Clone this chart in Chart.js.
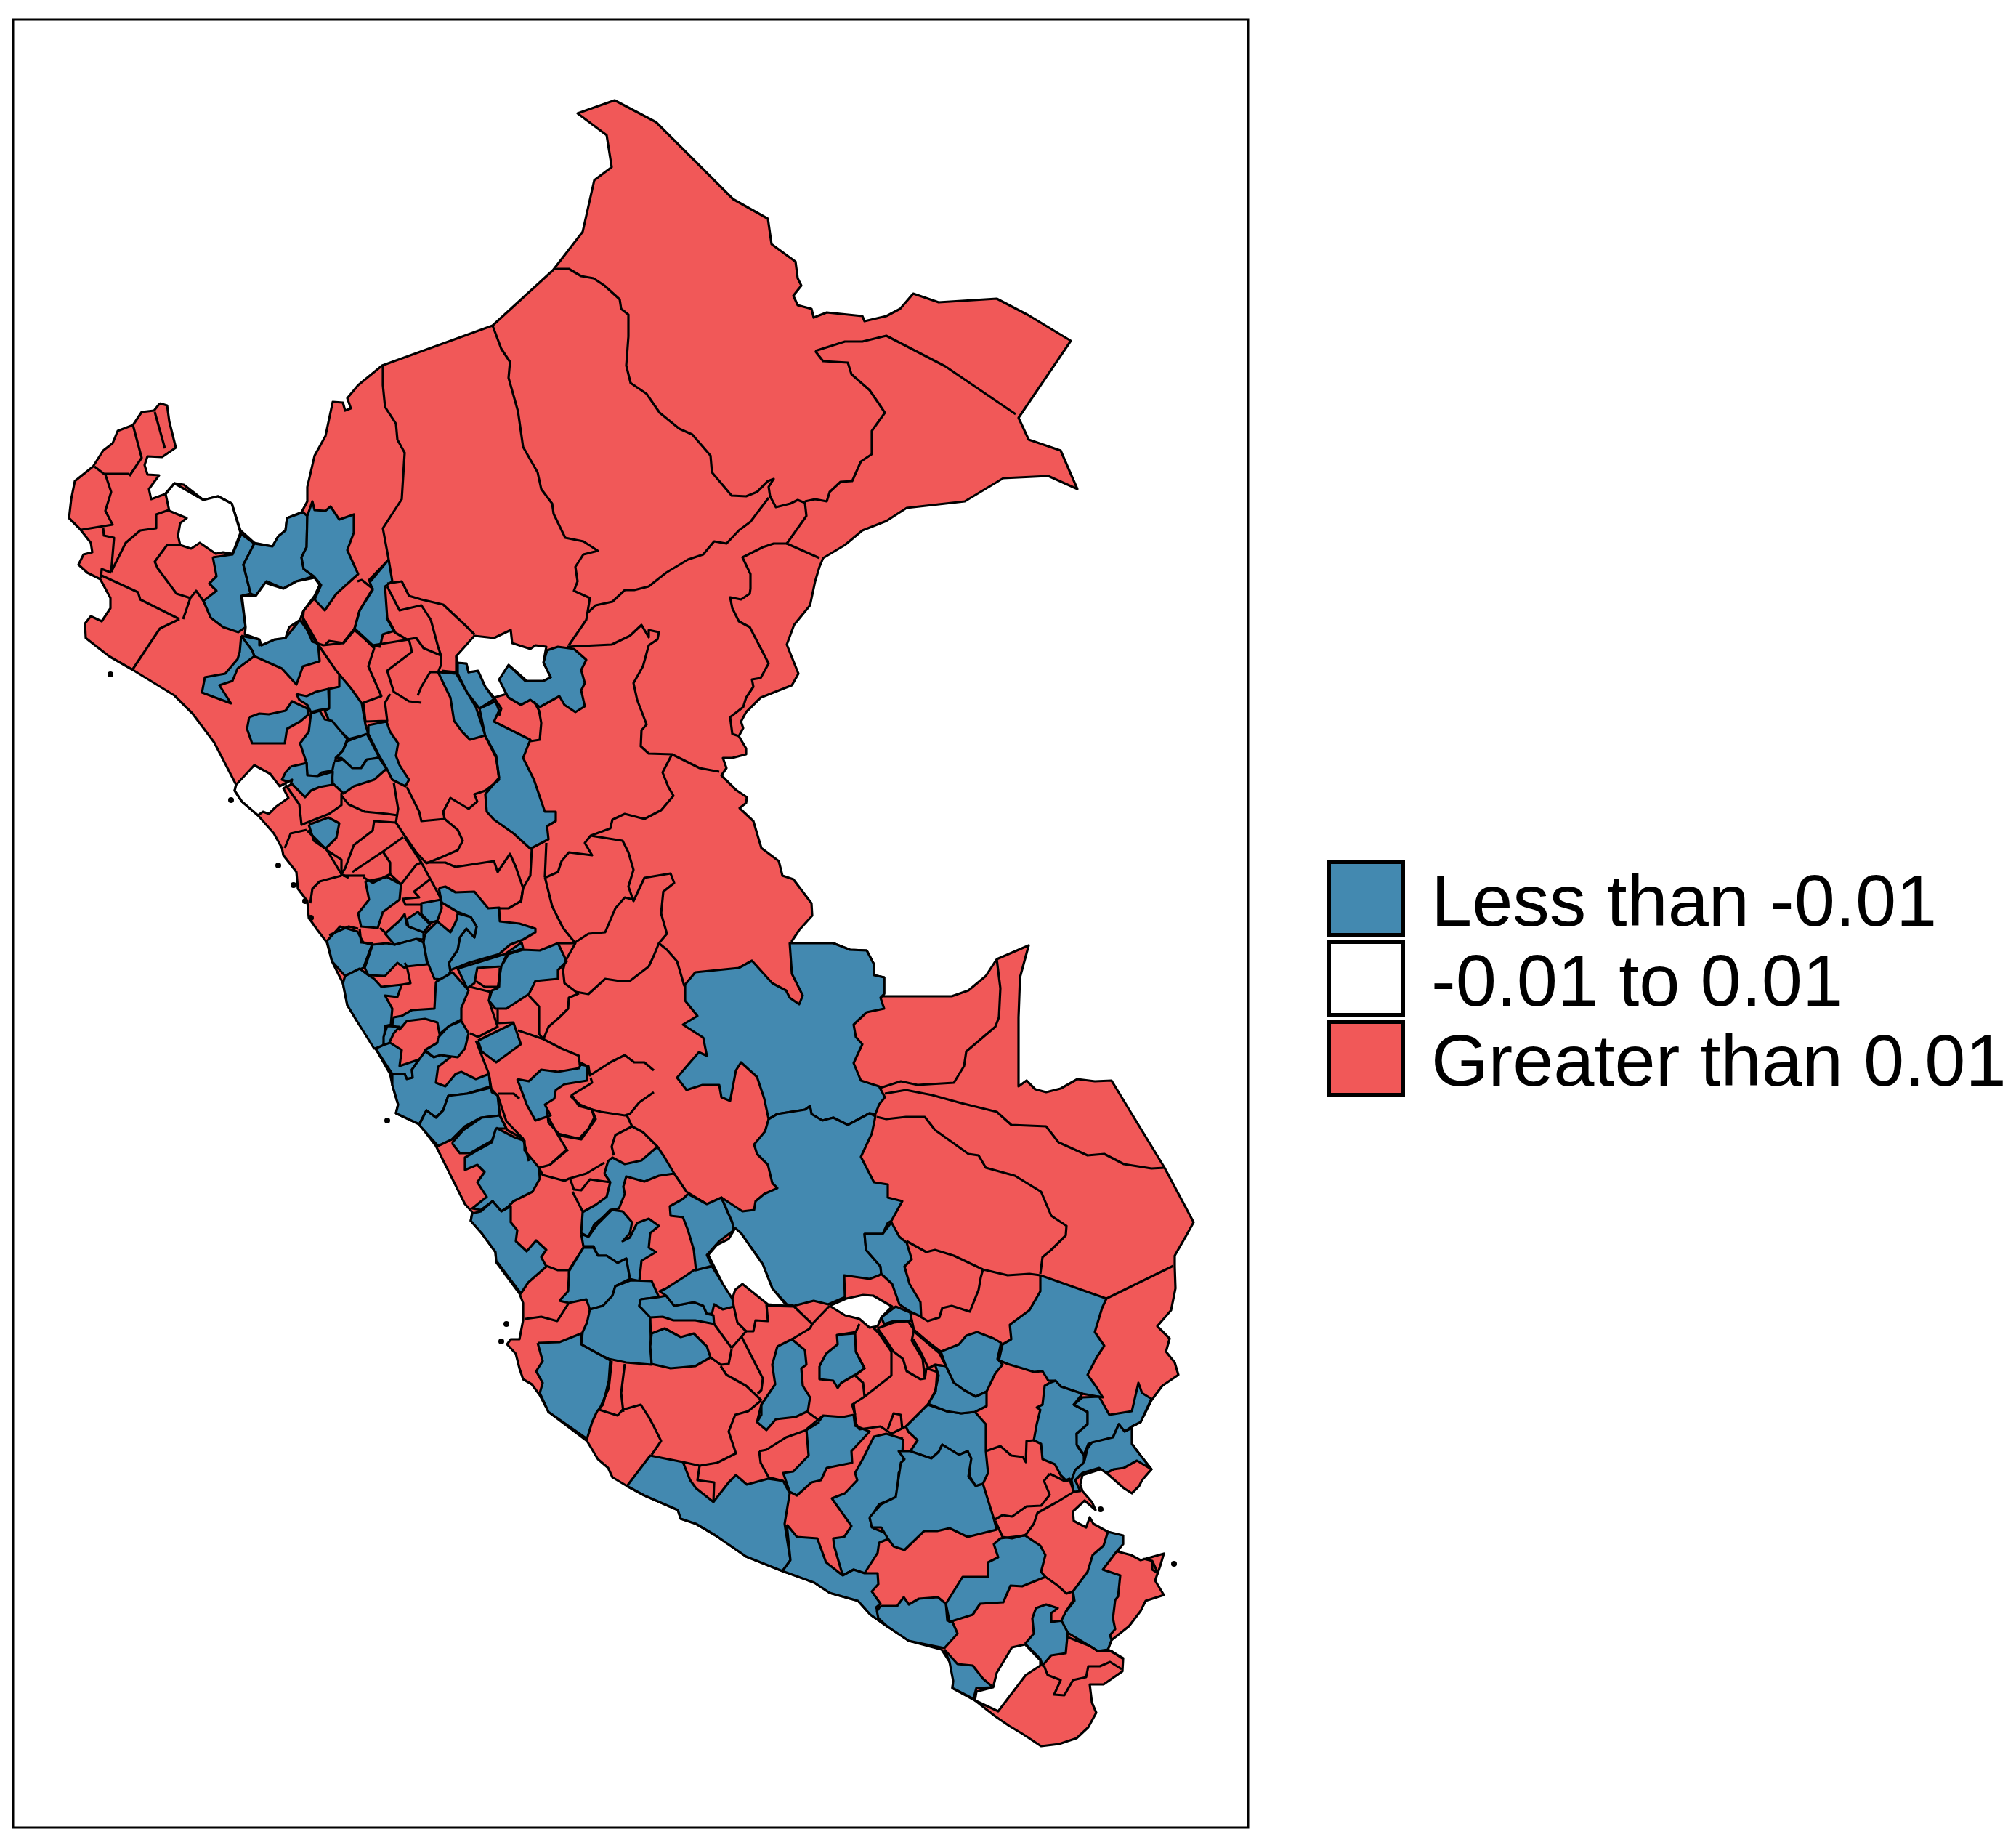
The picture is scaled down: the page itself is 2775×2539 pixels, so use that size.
<!DOCTYPE html>
<html>
<head>
<meta charset="utf-8">
<title>Peru provinces</title>
<script src="https://cdn.jsdelivr.net/npm/chart.js@4/dist/chart.umd.min.js"></script>
<style>
  html, body { margin: 0; background: #fff; }
  #wrap { position: relative; width: 2775px; height: 2539px; overflow: hidden; }
  .key { position: absolute; left: 1826px; width: 96px; height: 95px; border: 6px solid #000; }
  .lab { position: absolute; left: 1970px; font: 101px/107px "Liberation Sans", Arial, sans-serif; color: #000; white-space: nowrap; }
</style>
</head>
<body>
<div id="wrap">
  <canvas id="map" width="2775" height="2539"></canvas>
  <div id="legend"></div>
</div>
<script>
// ── Map data: flat x,y lists in map grid units ──
const legendLabels = ['Less than -0.01', '-0.01 to 0.01', 'Greater than 0.01'];
const blue = '#4389b0', red = '#f15858', white = '#ffffff';
const legendColors = [blue, white, red];

const nationalOutline = [220,555,230,558,233,580,242,616,223,629,203,628,199,640,203,653,219,654,205,673,208,687,227,680,240,665,253,667,280,688,300,683,319,693,331,730,350,747,375,752,383,738,393,730,395,713,415,705,423,690,423,670,433,627,448,600,458,553,472,554,475,565,483,562,478,548,493,530,526,503,678,448,761,372,802,319,818,248,842,230,835,186,795,156,846,138,903,168,956,221,1009,274,1057,301,1062,336,1095,360,1098,383,1103,393,1092,407,1098,420,1117,425,1120,437,1138,430,1187,435,1190,442,1220,435,1239,425,1257,404,1292,416,1372,411,1416,434,1474,469,1402,575,1416,605,1460,620,1483,673,1443,655,1381,658,1328,690,1248,699,1220,717,1187,730,1163,750,1133,768,1128,780,1122,800,1115,833,1093,860,1083,887,1099,927,1090,943,1047,960,1027,980,1020,993,1023,1002,1017,1013,1027,1030,1027,1038,1008,1043,995,1043,1000,1057,993,1067,1013,1087,1028,1097,1027,1105,1018,1112,1037,1130,1048,1167,1072,1185,1077,1205,1092,1210,1117,1243,1118,1260,1100,1280,1090,1295,1090,1298,1147,1298,1170,1307,1193,1308,1203,1327,1203,1342,1217,1345,1217,1367,1215,1371,1310,1371,1333,1363,1357,1343,1372,1320,1416,1301,1404,1345,1402,1400,1402,1495,1413,1487,1425,1499,1440,1503,1460,1498,1483,1485,1507,1488,1530,1487,1603,1607,1643,1682,1633,1700,1617,1728,1617,1743,1618,1773,1612,1803,1593,1825,1610,1842,1605,1860,1617,1875,1622,1892,1600,1907,1585,1927,1580,1937,1570,1957,1558,1963,1558,1987,1570,2003,1585,2022,1572,2037,1568,2045,1558,2055,1547,2048,1523,2027,1515,2022,1490,2030,1487,2043,1490,2052,1503,2067,1508,2078,1493,2065,1477,2080,1478,2093,1495,2102,1500,2088,1505,2097,1525,2108,1545,2115,1545,2125,1538,2135,1557,2140,1570,2147,1602,2138,1597,2155,1590,2175,1602,2195,1577,2203,1570,2217,1554,2238,1530,2257,1525,2270,1546,2282,1545,2300,1519,2318,1500,2318,1503,2343,1509,2357,1498,2377,1482,2392,1458,2400,1433,2403,1409,2387,1389,2375,1370,2362,1342,2340,1311,2323,1312,2315,1311,2293,1296,2270,1251,2258,1221,2238,1198,2222,1181,2203,1142,2192,1121,2178,1100,2170,1077,2162,1027,2142,985,2113,958,2097,937,2090,933,2078,887,2058,863,2045,843,2033,837,2020,823,2008,808,1983,800,1977,755,1943,743,1920,732,1905,720,1898,715,1883,710,1863,698,1850,703,1843,715,1843,720,1817,720,1793,715,1780,683,1737,682,1723,663,1697,648,1680,650,1668,640,1657,600,1577,577,1547,545,1532,548,1520,540,1493,537,1478,517,1443,490,1403,478,1383,472,1353,457,1323,450,1297,437,1280,425,1263,423,1240,410,1223,408,1200,390,1177,388,1167,377,1147,355,1122,333,1103,323,1088,325,1080,295,1022,265,982,240,957,183,922,150,903,118,878,117,858,125,848,140,855,152,837,152,823,138,797,120,788,108,777,115,763,127,760,125,747,110,728,95,713,98,687,103,662,128,642,142,620,155,610,162,593,183,585,195,567,212,565];

const blueRegions = [
  [293,767,320,763,332,735,350,748,335,777,345,817,332,820,338,863,328,870,307,863,290,850,280,827,298,813,288,803,298,793],
  [350,748,375,752,383,738,393,730,395,713,417,705,423,710,422,753,415,767,418,783,432,793,408,800,390,810,367,800,352,820,345,817,335,777],
  [423,710,430,690,433,702,448,703,455,697,467,715,487,708,487,733,478,757,493,790,463,817,447,840,433,825,442,805,432,793,418,783,415,767,422,753],
  [332,875,357,880,357,888,378,880,393,878,413,853,438,888,440,910,417,917,408,942,388,920,350,903,347,895],
  [332,875,347,895,350,903,327,920,320,937,302,943,318,968,278,953,282,932,310,927,327,907,330,897],
  [535,770,540,800,530,807,533,850,543,868,527,873,523,890,513,888,488,865,495,840,513,812,508,798],
  [408,955,422,958,435,952,452,948,453,975,440,977,428,980,423,970,412,963],
  [467,928,483,947,498,968,503,997,507,1010,480,1017,453,992,447,978,453,975,453,948,467,945],
  [343,987,357,982,370,983,393,978,402,965,423,975,425,983,413,993,395,1003,392,1023,373,1023,368,1023,347,1023,340,1003],
  [440,978,447,990,457,992,478,1017,472,1033,462,1045,460,1060,443,1063,437,1068,423,1067,422,1050,413,1023,425,1007,428,982],
  [478,1020,505,1010,522,1042,503,1047,497,1057,483,1057,470,1043,462,1043,472,1033],
  [460,1048,472,1045,485,1057,497,1057,505,1045,522,1043,532,1058,515,1073,487,1082,473,1092,458,1078,457,1063],
  [400,1055,422,1050,423,1067,437,1068,458,1062,457,1080,440,1083,428,1088,420,1097,400,1077,388,1073,393,1063],
  [507,998,532,993,537,1007,548,1023,545,1040,550,1053,563,1073,558,1082,540,1073,532,1057,522,1040,507,1010],
  [603,925,628,927,643,953,655,973,668,1012,647,1018,637,1008,625,992,620,960,615,950],
  [630,912,642,913,645,925,658,923,668,945,680,962,660,975,643,953,630,927],
  [687,935,700,915,723,937,747,937,758,932,748,912,753,895,768,890,790,893,807,908,800,922,805,940,800,950,805,972,792,980,777,970,770,958,743,973,730,963,717,970,700,960,690,943],
  [660,975,682,965,687,978,680,993,730,1018,720,1043,735,1073,750,1117,765,1117,765,1130,753,1137,755,1155,730,1168,707,1147,680,1128,670,1117,668,1093,687,1070,683,1043,668,1013],
  [425,1135,452,1125,467,1133,463,1153,448,1168,432,1157],
  [503,1213,533,1207,552,1217,550,1238,527,1255,520,1277,497,1275,493,1257,508,1238],
  [450,1295,468,1275,492,1282,500,1297,512,1300,502,1327,500,1332,475,1343,457,1323],
  [513,1300,532,1298,543,1300,573,1292,583,1297,588,1327,560,1330,557,1332,547,1325,530,1343,507,1342,502,1332],
  [530,1285,550,1267,557,1258,560,1273,583,1283,583,1293,573,1292,543,1300],
  [560,1265,575,1255,592,1272,583,1283,562,1275],
  [580,1243,607,1238,608,1250,602,1267,592,1270,580,1258],
  [604,1222,613,1220,627,1228,653,1227,672,1250,687,1249,688,1268,715,1271,737,1278,737,1283,720,1293,702,1300,687,1313,645,1325,620,1335,618,1325,630,1307,633,1290,642,1278,653,1290,656,1275,648,1262,630,1255,608,1242],
  [585,1285,602,1268,620,1283,628,1267,630,1257,648,1262,656,1275,653,1290,642,1278,633,1290,630,1307,618,1325,620,1338,610,1348,598,1347,588,1323,583,1297],
  [630,1333,695,1313,718,1297,720,1305,698,1313,690,1330,657,1332,653,1353,643,1360],
  [690,1330,700,1313,720,1307,743,1308,768,1298,780,1323,768,1335,768,1347,737,1350,728,1368,697,1388,682,1388,673,1377,677,1363,685,1360],
  [475,1343,495,1333,507,1342,515,1347,525,1358,553,1355,547,1372,530,1370,540,1388,538,1410,530,1412,528,1440,515,1443,490,1403,478,1383,472,1353],
  [602,1350,623,1338,645,1363,635,1387,635,1403,618,1412,605,1423,602,1407,585,1402,560,1405,550,1417,540,1410,542,1400,553,1398,567,1390,598,1388,600,1352],
  [533,1412,550,1413,542,1422,535,1437,528,1440,528,1427],
  [517,1443,528,1438,537,1435,545,1440,553,1445,550,1467,577,1458,567,1472,568,1483,560,1485,557,1478,540,1478],
  [603,1428,618,1412,635,1405,645,1422,640,1443,630,1455,607,1452,597,1455,585,1445,602,1435],
  [658,1432,707,1408,717,1437,683,1462,663,1447],
  [540,1478,557,1478,560,1485,568,1483,567,1472,577,1458,585,1447,597,1455,607,1452,620,1455,603,1468,600,1490,613,1495,627,1478,635,1475,655,1485,673,1478,675,1495,643,1505,617,1508,610,1528,600,1538,587,1528,577,1547,545,1532,548,1520,540,1493],
  [577,1548,587,1528,600,1538,610,1528,617,1508,643,1505,675,1497,685,1508,688,1535,662,1538,640,1550,622,1568,603,1577],
  [622,1573,638,1555,663,1538,688,1535,697,1553,683,1553,677,1570,647,1587,633,1587],
  [683,1552,708,1565,722,1570,722,1583,742,1607,743,1622,733,1640,707,1653,700,1660,690,1667,678,1653,662,1665,650,1663,670,1647,657,1627,667,1613,657,1603,640,1610,640,1593,657,1583,677,1572],
  [650,1670,662,1667,678,1653,690,1667,703,1660,703,1682,712,1693,710,1708,725,1722,738,1707,752,1720,745,1730,752,1743,727,1765,717,1780,683,1735,682,1723,663,1697,648,1680],
  [712,1485,728,1488,745,1472,768,1475,797,1470,800,1463,808,1467,808,1487,777,1492,765,1500,763,1512,750,1520,758,1535,737,1542,725,1520],
  [832,1615,837,1598,843,1593,860,1602,883,1597,905,1578,915,1593,928,1615,907,1618,887,1626,862,1619,858,1633,860,1643,852,1663,840,1665,830,1675,818,1685,810,1702,800,1697,802,1668,820,1658,835,1647,840,1627],
  [800,1698,810,1702,822,1685,842,1665,857,1667,870,1682,867,1697,857,1708,867,1703,877,1683,893,1677,907,1687,895,1697,893,1717,903,1723,883,1735,880,1763,867,1760,862,1732,850,1738,835,1728,823,1728,817,1715,803,1715],
  [770,1790,782,1777,783,1757,783,1750,803,1717,817,1717,823,1728,835,1728,850,1738,862,1732,867,1760,847,1770,843,1783,830,1797,812,1802,807,1788,783,1793],
  [812,1802,830,1797,843,1783,847,1770,868,1762,897,1763,907,1785,882,1788,880,1797,895,1812,897,1878,862,1875,838,1870,820,1862,800,1850,802,1833,808,1820],
  [882,1788,907,1785,917,1783,928,1797,955,1792,968,1797,973,1808,982,1810,983,1822,957,1817,927,1817,912,1812,895,1813,880,1797],
  [897,1835,915,1828,937,1840,955,1835,973,1853,978,1868,957,1880,923,1883,897,1877,895,1853],
  [917,1773,942,1757,955,1748,980,1743,1008,1787,1010,1798,995,1802,983,1795,980,1808,973,1808,968,1797,955,1792,928,1797,917,1783,908,1777],
  [947,1643,973,1657,993,1648,1008,1682,1010,1693,990,1708,973,1727,980,1742,958,1748,955,1720,947,1693,940,1675,923,1673,922,1660,940,1650],
  [943,1355,957,1338,987,1335,1017,1332,1035,1322,1063,1353,1082,1363,1087,1373,1100,1382,1105,1370,1090,1340,1087,1298,1147,1298,1170,1307,1193,1308,1203,1327,1203,1342,1217,1345,1217,1368,1212,1373,1217,1388,1193,1393,1175,1410,1178,1427,1187,1437,1175,1463,1185,1487,1210,1495,1218,1510,1210,1520,1205,1533,1197,1532,1167,1548,1147,1538,1132,1542,1117,1533,1115,1522,1108,1527,1070,1533,1058,1540,1052,1512,1042,1482,1020,1462,1013,1473,1005,1515,993,1510,990,1493,967,1493,945,1500,932,1483,943,1470,962,1448,973,1453,968,1428,940,1410,960,1398,943,1377],
  [1058,1540,1070,1533,1108,1527,1115,1522,1117,1533,1132,1542,1147,1538,1167,1548,1197,1532,1205,1536,1200,1560,1185,1592,1203,1627,1222,1630,1222,1648,1242,1653,1227,1680,1222,1683,1215,1698,1190,1698,1192,1720,1212,1743,1213,1753,1210,1755,1197,1760,1162,1755,1163,1785,1140,1795,1120,1790,1093,1797,1083,1795,1063,1773,1050,1740,1020,1697,1010,1693,1008,1682,993,1648,1022,1667,1038,1665,1040,1653,1052,1643,1070,1635,1063,1628,1057,1603,1042,1588,1038,1575,1053,1557],
  [1213,1813,1233,1798,1255,1807,1253,1818,1230,1818,1217,1822],
  [1227,1682,1238,1702,1248,1710,1255,1733,1245,1743,1252,1767,1267,1792,1268,1812,1253,1805,1238,1795,1228,1767,1213,1753,1212,1743,1192,1720,1190,1698,1215,1698],
  [1070,1853,1090,1843,1108,1858,1110,1878,1103,1883,1105,1907,1115,1923,1112,1942,1095,1950,1068,1953,1055,1968,1042,1957,1048,1933,1067,1905,1063,1878],
  [1128,1880,1137,1863,1153,1850,1152,1837,1177,1835,1178,1860,1190,1883,1177,1892,1158,1903,1153,1910,1147,1900,1128,1898],
  [1110,1967,1133,1948,1160,1950,1175,1947,1177,1962,1197,1970,1172,1997,1173,2013,1138,2020,1130,2037,1117,2040,1097,2058,1087,2053,1078,2027,1092,2025,1113,2003],
  [1243,1980,1242,2003,1245,2012,1237,2027,1235,2060,1210,2070,1197,2090,1202,2103,1220,2110,1222,2118,1210,2123,1208,2137,1190,2165,1175,2160,1160,2168,1148,2127,1147,2117,1162,2115,1172,2100,1145,2062,1163,2055,1180,2037,1177,2027,1188,2007,1203,1977,1220,1973],
  [863,2045,895,2003,940,2012,950,2037,958,2048,982,2067,1003,2040,1013,2030,1028,2043,1057,2035,1078,2038,1087,2055,1080,2097,1088,2147,1077,2162,1027,2142,985,2113,958,2097,937,2090,933,2078,887,2058],
  [1083,2098,1097,2115,1125,2117,1137,2150,1160,2168,1175,2160,1190,2165,1208,2165,1209,2180,1200,2190,1212,2207,1206,2212,1212,2227,1221,2238,1198,2222,1181,2203,1142,2192,1121,2178,1077,2162,1088,2147],
  [1212,2210,1235,2210,1244,2198,1251,2208,1265,2200,1291,2198,1302,2207,1304,2230,1311,2232,1318,2248,1300,2268,1275,2263,1251,2258,1221,2238,1209,2227,1207,2217],
  [1300,2270,1318,2290,1339,2292,1353,2310,1367,2322,1344,2323,1340,2338,1311,2323,1312,2313,1307,2287],
  [1411,2262,1423,2248,1421,2227,1426,2213,1440,2208,1456,2213,1447,2220,1447,2232,1465,2230,1470,2243,1467,2275,1447,2278,1435,2292,1432,2283],
  [1477,2190,1497,2163,1504,2140,1519,2127,1525,2108,1546,2113,1546,2125,1537,2135,1518,2160,1542,2168,1539,2197,1535,2202,1532,2227,1535,2242,1528,2250,1530,2257,1525,2270,1511,2272,1500,2265,1470,2247,1461,2230,1467,2218,1477,2203],
  [1247,1963,1277,1933,1303,1942,1323,1945,1342,1943,1357,1960,1357,1997,1360,2027,1353,2042,1343,2045,1335,2032,1332,2007,1332,1997,1320,2002,1297,1988,1292,1998,1282,2007,1253,1997,1263,1982,1250,1970],
  [1197,2088,1213,2070,1233,2060,1240,2013,1245,2008,1237,1997,1253,1997,1282,2007,1292,1998,1297,1988,1320,2002,1332,1997,1337,2007,1333,2032,1343,2045,1353,2042,1368,2090,1372,2105,1332,2115,1307,2103,1290,2107,1272,2107,1245,2133,1230,2128,1222,2117,1213,2102,1200,2102],
  [1295,1860,1320,1850,1330,1838,1345,1833,1368,1842,1378,1848,1373,1870,1380,1878,1370,1890,1358,1915,1343,1922,1327,1913,1313,1903,1302,1880],
  [1287,1878,1302,1880,1313,1903,1327,1913,1343,1922,1358,1915,1358,1935,1342,1943,1323,1945,1303,1942,1278,1932,1287,1915,1292,1893],
  [1432,1755,1523,1787,1517,1800,1507,1833,1520,1852,1510,1867,1497,1892,1508,1907,1518,1923,1490,1918,1460,1908,1452,1900,1443,1900,1435,1887,1423,1888,1407,1883,1387,1877,1375,1872,1380,1850,1392,1843,1390,1823,1417,1803,1432,1777],
  [1445,1903,1453,1900,1460,1908,1490,1918,1478,1933,1497,1943,1497,1960,1482,1973,1483,1990,1492,2003,1492,2013,1480,2023,1477,2035,1468,2038,1460,2030,1452,2015,1435,2008,1433,1987,1423,1982,1427,1960,1432,1940,1427,1937,1435,1933,1438,1907],
  [1490,1923,1513,1922,1527,1947,1558,1942,1567,1903,1572,1917,1585,1925,1578,1940,1570,1957,1558,1963,1548,1970,1540,1960,1532,1978,1498,1987,1492,2002,1482,1988,1482,1973,1497,1960,1497,1943,1478,1933],
  [1492,2013,1497,1993,1503,1985,1532,1978,1540,1960,1548,1970,1558,1965,1558,1987,1570,2003,1585,2022,1565,2010,1547,2020,1533,2022,1523,2027,1513,2020,1490,2027,1480,2037,1487,2052,1478,2053,1475,2037,1480,2023],
  [740,1848,770,1847,800,1835,800,1850,840,1872,838,1900,830,1933,822,1942,815,1957,808,1980,755,1943,743,1917,747,1903,738,1887,747,1873],
  [1377,2117,1411,2113,1432,2127,1439,2140,1433,2163,1439,2170,1407,2183,1391,2182,1381,2205,1349,2207,1339,2222,1307,2232,1302,2207,1325,2170,1360,2170,1360,2150,1374,2143,1368,2125]
];

const whiteRegions = [
  [228,680,240,665,280,688,300,683,319,693,331,733,320,762,307,760,297,762,275,747,263,755,248,750,245,737,248,720,257,713,233,703],
  [333,820,352,820,365,802,390,810,408,800,433,795,440,805,433,820,417,842,413,853,398,863,393,878,378,880,360,888,357,880,337,873,338,863],
  [628,903,653,875,680,878,703,867,705,885,730,893,737,888,752,890,748,912,758,932,748,937,725,937,700,915,687,935,697,955,680,960,668,945,658,923,645,925,642,913,630,912],
  [325,1080,350,1053,372,1065,385,1082,402,1073,400,1080,390,1085,397,1098,380,1110,370,1120,362,1117,355,1122,333,1103,323,1088],
  [975,1727,987,1713,1003,1705,1012,1690,1020,1697,1050,1740,1063,1773,1083,1797,1057,1795,1022,1767,1012,1775,1008,1787,995,1767],
  [1142,1797,1165,1787,1188,1782,1202,1783,1228,1798,1213,1813,1208,1825,1197,1827,1183,1815,1163,1810],
  [1344,2328,1367,2322,1372,2302,1393,2267,1411,2263,1432,2285,1432,2292,1412,2305,1374,2355,1342,2340]
];

// province borders between neighbouring red provinces
const boundaryLines = [
  [678,448,690,480,702,498,700,520,713,566,720,615,740,650,745,673,760,693,762,707,778,740,803,745,823,758,803,763,792,780,795,800,790,813,812,823,807,853,783,888],
  [807,845,820,833,843,828,860,812,873,812,893,807,917,788,947,770,968,763,983,745,1000,748,1017,730,1033,718,1058,685],
  [762,370,783,370,800,380,817,383,832,393,853,412,855,425,865,433,865,463,862,503,868,527,890,542,908,568,935,590,953,598,978,627,980,650,1007,682,1027,683,1042,677,1057,662,1065,659,1058,670,1060,683,1068,698,1088,693,1098,688,1108,692,1110,710,1083,748,1128,768],
  [1122,483,1163,470,1187,470,1220,462,1301,504,1398,570],
  [1122,483,1133,497,1167,499,1172,515,1197,537,1208,553,1218,568,1200,593,1200,625,1185,635,1173,662,1157,663,1142,677,1138,690,1122,687,1108,690],
  [1083,748,1065,748,1050,753,1022,767,1033,790,1033,810,1032,817,1020,825,1005,822,1008,837,1017,855,1032,863,1058,913,1047,933,1035,935,1037,945,1027,960,1023,973,1005,987,1008,1010,1017,1013],
  [780,890,842,887,867,875,883,860,893,877,893,867,907,870,905,880,893,888,885,917,872,940,877,963,890,997,883,1005,882,1027,893,1037,925,1038,963,1057,990,1062],
  [925,1038,912,1063,920,1083,927,1095,910,1115,887,1127,860,1120,843,1128,840,1140,813,1150,805,1160,815,1177,783,1173,773,1185,768,1200,750,1208],
  [813,1150,857,1157,865,1173,872,1197,865,1220,872,1240,887,1208,923,1202,928,1215,913,1227,910,1257,918,1285,907,1298,918,1307,932,1323,942,1357],
  [907,1298,900,1315,893,1330,867,1350,853,1350,833,1347,810,1368,793,1365,777,1353,775,1335,778,1323],
  [790,1298,810,1285,833,1283,847,1250,860,1235,872,1238],
  [750,1207,760,1247,775,1277,792,1298,778,1323],
  [752,1160,750,1207],
  [732,1168,730,1205,720,1222,717,1243],
  [587,1187,613,1187,627,1193,680,1185,685,1200,702,1175,710,1193,720,1222,717,1240,700,1250,688,1250],
  [728,1370,742,1385,742,1423,748,1430],
  [748,1430,755,1413,770,1400,782,1388,783,1373,797,1367],
  [713,1418,748,1430,773,1443,797,1453,798,1465,810,1467,812,1480,840,1462,860,1452,873,1462,887,1462,900,1473],
  [813,1483,815,1490,787,1507,797,1522,827,1530,860,1535,867,1533,880,1517,900,1503],
  [862,1533,870,1550,847,1562,842,1578,845,1590],
  [870,1550,885,1558,905,1578],
  [928,1615,945,1640,973,1657],
  [755,1538,768,1562,780,1582,757,1603,742,1607],
  [768,1560,797,1567,810,1553,818,1538,815,1528],
  [685,1507,697,1543,720,1567],
  [742,1607,747,1617,777,1625,783,1622,807,1615,832,1600],
  [785,1623,790,1637,800,1638,812,1623,840,1627],
  [788,1640,802,1667],
  [752,1742,768,1748,783,1748,803,1717],
  [723,1815,745,1812,767,1818,783,1793],
  [860,1877,855,1917,858,1943],
  [842,1873,838,1910,825,1940,850,1948,857,1940,882,1933,893,1950,900,1963,910,1983,897,2002],
  [963,2017,960,2037,983,2040,982,2067],
  [940,2012,963,2017,987,2013,1013,2000,1003,1970,1012,1947,1030,1942,1048,1927],
  [983,1822,1007,1855],
  [1010,1798,1015,1820,1027,1832,1007,1855],
  [1027,1832,1037,1832,1040,1817,1057,1818,1055,1795],
  [1007,1857,1003,1877,992,1878,978,1868],
  [1020,1838,1050,1897,1048,1913,1043,1918],
  [992,1880,1000,1892,1027,1907,1048,1927],
  [1055,1797,1093,1798,1118,1822,1115,1828,1090,1843],
  [1153,1837,1178,1833,1183,1822],
  [1118,1822,1142,1797],
  [1178,1860,1190,1883,1177,1893,1188,1903,1190,1922,1173,1933,1177,1947],
  [1110,1942,1128,1955,1133,1948],
  [1045,1997,1055,1995,1082,1978,1110,1968,1128,1957],
  [1045,1997,1047,2013,1058,2033,1078,2038],
  [1048,1933,1048,1947,1042,1957],
  [1190,1922,1227,1893,1227,1860,1210,1835,1202,1827],
  [1208,1828,1230,1820,1250,1818,1258,1830,1255,1845,1270,1870,1273,1897,1267,1898,1248,1887,1243,1870,1230,1860,1218,1842,1208,1828],
  [1258,1832,1273,1845,1293,1862,1302,1880,1287,1878,1278,1883,1267,1860,1257,1843],
  [1273,1898,1275,1883,1290,1888,1288,1915,1277,1933],
  [1222,1967,1230,1945,1240,1947,1242,1967],
  [1177,1957,1183,1967,1212,1963,1227,1973,1247,1963],
  [1175,1932,1178,1957],
  [1357,1997,1377,1990,1392,2003,1408,2005,1412,2012,1413,1983,1423,1982],
  [1445,2028,1437,2038,1445,2057,1433,2072,1413,2073,1393,2087,1380,2085,1368,2092],
  [1445,2028,1465,2038,1472,2035,1478,2053,1455,2067,1428,2082,1423,2097,1412,2112,1393,2117,1380,2115,1370,2093],
  [1439,2170,1456,2182,1468,2193,1477,2190,1479,2203,1467,2218],
  [1470,2253,1500,2265,1511,2272,1530,2272,1546,2283],
  [1437,2292,1442,2305,1460,2312,1451,2332,1465,2333,1477,2312,1495,2308,1498,2293,1514,2293,1528,2287,1544,2297],
  [1574,2145,1586,2148,1594,2165,1586,2160,1586,2148],
  [1212,1497,1240,1488,1263,1493,1313,1490,1327,1467,1330,1447,1370,1413,1375,1400,1377,1360,1372,1320],
  [1218,1505,1247,1500,1283,1507,1323,1518,1372,1530,1392,1548,1440,1550,1457,1572,1497,1590,1520,1588,1547,1602,1585,1608,1603,1607],
  [1207,1537,1220,1540,1247,1537,1273,1537,1287,1555,1333,1588,1347,1590,1357,1607,1397,1618,1433,1640,1447,1673,1468,1687,1467,1700,1447,1720,1435,1730,1432,1753],
  [1432,1755,1417,1753,1387,1755,1353,1747,1313,1728,1287,1720,1275,1723,1248,1708],
  [1353,1747,1350,1758,1347,1775,1335,1805,1310,1797,1297,1800,1293,1813,1277,1818,1267,1812],
  [1523,1787,1615,1742],
  [1253,1807,1258,1830,1278,1847,1295,1860],
  [213,567,227,617],
  [183,585,195,630,178,655],
  [130,642,143,652,177,652],
  [145,653,153,677,145,703,155,722,112,729],
  [142,727,143,737,157,740,153,787],
  [153,787,173,747,193,730,215,727,215,708,232,702],
  [139,795,140,783,153,788],
  [140,792,190,815,193,825,247,852],
  [247,852,220,865,182,922],
  [252,852,262,823,270,813,280,827],
  [262,823,243,817,217,782,213,773,230,750,248,750],
  [527,503,527,530,530,560,545,583,547,605,557,623,553,687,527,727,535,770],
  [492,800,498,798,513,810,495,840,488,865,472,885,445,888,430,883,417,853,418,840,433,823],
  [510,800,535,770],
  [488,865,515,892,507,917,525,958,500,967],
  [513,888,563,880,567,897,533,923,542,952,563,965,580,967],
  [533,803,553,800,563,820,580,825,610,832,640,860,653,873],
  [533,807,550,840,580,833,593,853],
  [532,850,543,870,560,880,573,878,583,892,607,902,603,890,593,853],
  [607,902,607,915,603,925,592,925,580,945,575,957],
  [608,923,628,925,628,902],
  [417,850,440,890,462,922,467,928],
  [448,887,453,882,473,885,488,867,512,888],
  [500,967,503,993,533,992,530,967,537,955],
  [668,1013,683,1040,687,1073,668,1088,653,1093,657,1103,645,1113,620,1098,610,1117,612,1127],
  [612,1127,630,1142,637,1157,630,1170,607,1180,587,1188,573,1173,557,1150],
  [560,1083,577,1117,580,1130,612,1127],
  [542,1077,548,1113,545,1132,557,1150],
  [470,1095,480,1107,502,1117,533,1120,547,1122],
  [470,1092,470,1108,453,1120,415,1135,412,1107,393,1080],
  [422,1142,400,1147,392,1167],
  [423,1143,450,1170,470,1203,480,1208],
  [450,1170,470,1183,470,1203,475,1195,487,1163,513,1143,515,1130,545,1132],
  [485,1200,527,1172,555,1152],
  [527,1172,537,1187,537,1203,513,1215,500,1207],
  [470,1205,440,1213,430,1223,427,1243],
  [472,1205,502,1205],
  [493,1278,480,1275,453,1287],
  [537,1203,552,1217,573,1190,580,1187],
  [557,1152,580,1187,605,1233,608,1242],
  [553,1237,577,1235,570,1227,592,1210],
  [555,1238,558,1245,580,1245],
  [495,1278,497,1297,513,1298],
  [523,1277,532,1285],
  [557,1325,560,1330,565,1353,553,1355],
  [647,1358,675,1365,673,1377,685,1413,658,1427,647,1422],
  [655,1350,667,1358,687,1358,688,1332],
  [655,1432,673,1478,677,1503,685,1507],
  [685,1505,707,1505,715,1512],
  [753,1527,755,1545,772,1563,800,1568,820,1540,815,1527,798,1520,785,1508],
  [688,1535,698,1555,720,1567,728,1598],
  [782,1582,760,1600],
  [685,1390,685,1408,707,1407],
  [768,1298,792,1298],
  [730,1020,743,1018,745,995,742,978,735,965],
  [680,960,690,975,687,985]
];

const islands = [152,928,383,1191,318,1101,404,1218,420,1240,428,1263,697,1822,690,1846,533,1542,1515,2077,1616,2152];

// ── Helpers ──
function toPoints(flat, closed) {
  const pts = [];
  for (let i = 0; i < flat.length; i += 2) pts.push({ x: flat[i], y: flat[i + 1] });
  if (closed) pts.push(pts[0]);
  return pts;
}

function regionDataset(flat, color) {
  return {
    data: toPoints(flat, true),
    backgroundColor: color,
    borderColor: '#000',
    borderWidth: 3.2,
    fill: 'shape',
    pointRadius: 0,
    tension: 0,
    borderJoinStyle: 'round'
  };
}

const datasets = [regionDataset(nationalOutline, red)];
blueRegions.forEach(r => datasets.push(regionDataset(r, blue)));
whiteRegions.forEach(r => datasets.push(regionDataset(r, white)));
boundaryLines.forEach(l => datasets.push({
  data: toPoints(l, false),
  borderColor: '#000',
  borderWidth: 3.2,
  fill: false,
  pointRadius: 0,
  tension: 0,
  borderJoinStyle: 'round'
}));
datasets.push({
  data: toPoints(islands, false),
  showLine: false,
  pointRadius: 4,
  pointBackgroundColor: '#000',
  pointBorderWidth: 0
});
// Chart.js paints the first dataset last, so the base map goes to the end
datasets.reverse();

// plot frame
const framePlugin = {
  id: 'frame',
  beforeDatasetsDraw(chart) {
    const { ctx, chartArea: a } = chart;
    ctx.save();
    ctx.strokeStyle = '#000';
    ctx.lineWidth = 3;
    ctx.strokeRect(a.left, a.top, a.right - a.left, a.bottom - a.top);
    ctx.restore();
  }
};

new Chart(document.getElementById('map').getContext('2d'), {
  type: 'line',
  data: { datasets },
  plugins: [framePlugin],
  options: {
    responsive: false,
    animation: false,
    events: [],
    layout: { padding: { left: 18, top: 27, right: 1057, bottom: 24 } },
    plugins: { legend: { display: false }, tooltip: { enabled: false }, title: { display: false } },
    scales: {
      x: { type: 'linear', min: 18, max: 1718, display: false },
      y: { type: 'linear', min: 27, max: 2515, reverse: true, display: false }
    }
  }
});

// ── Legend ──
const legendTops = [1183, 1293, 1403];
document.getElementById('legend').innerHTML = legendLabels.map((t, i) => `
  <div class="key" style="top:${legendTops[i]}px;background:${legendColors[i]}"></div>
  <div class="lab" style="top:${legendTops[i] + 3}px">${t}</div>
`).join('');
</script>
</body>
</html>
